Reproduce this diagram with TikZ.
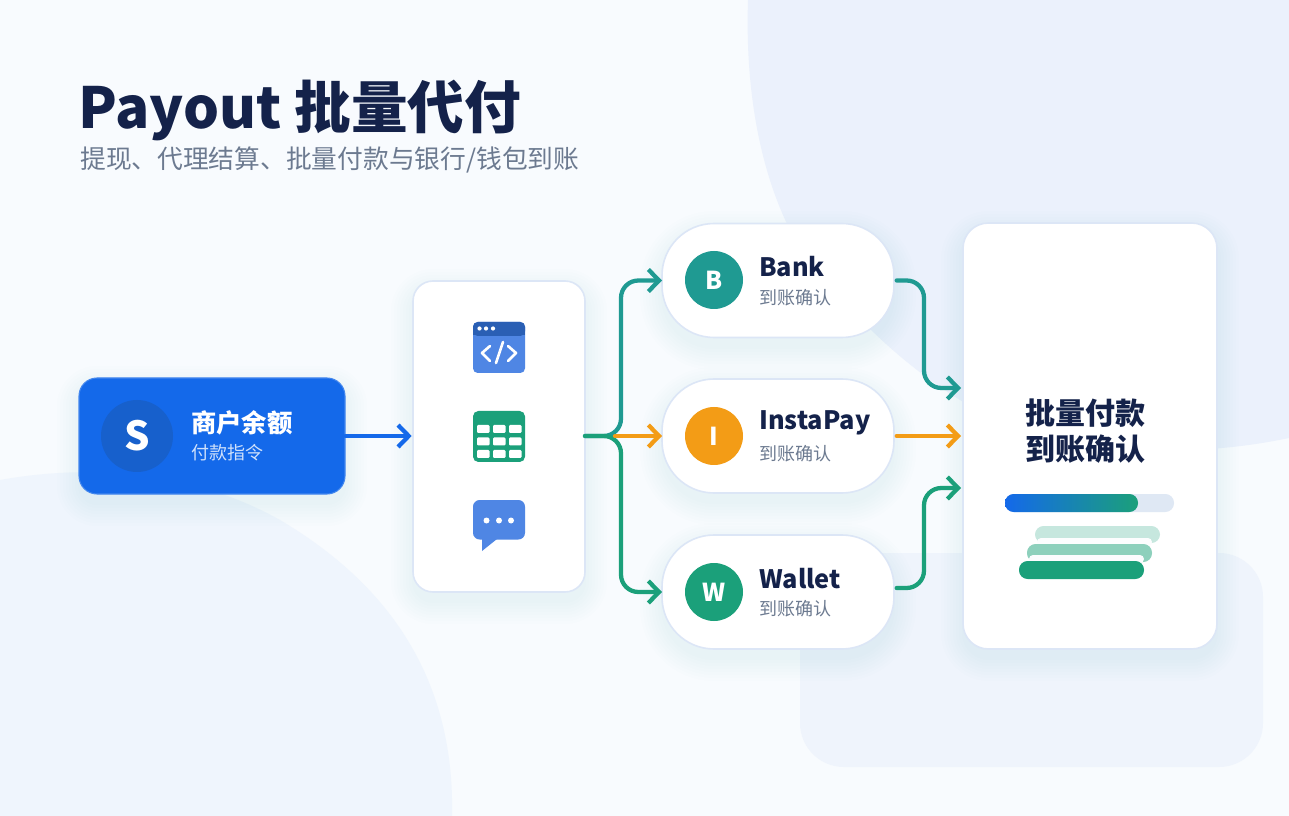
\documentclass[tikz,border=0pt]{standalone}
\usepackage{fontspec}
\setmainfont{Noto Sans CJK SC}
\usetikzlibrary{arrows.meta,calc}
\definecolor{bgbase}{HTML}{F8FBFE}
\definecolor{bgblob}{HTML}{EBF1FC}
\definecolor{bgleft}{HTML}{EFF5FD}
\definecolor{bgrect}{HTML}{EFF4FC}
\definecolor{navy}{HTML}{14224A}
\definecolor{greytext}{HTML}{6C7A90}
\definecolor{brand}{HTML}{1469EA}
\definecolor{branddark}{HTML}{1760CC}
\definecolor{teal1}{HTML}{1F9A92}
\definecolor{green1}{HTML}{1BA07A}
\definecolor{amber}{HTML}{F39C16}
\definecolor{edge}{HTML}{DCE6F6}
\definecolor{iconblue}{HTML}{4F86E4}
\definecolor{iconhead}{HTML}{2A5FB4}
\definecolor{track}{HTML}{DFE8F4}
\definecolor{shadowcol}{HTML}{5B7DB8}
\newcommand{\softshadow}[5]{%
  \foreach \g in {22,19,...,1}{%
    \fill[shadowcol,opacity=0.009,rounded corners={(#5+\g)*0.75pt}]
      ({#1-\g},{#2-\g+10}) rectangle ({#3+\g},{#4+\g+10});}}
\tikzset{
  cardbox/.style={draw=edge,line width=1.2pt,fill=white,inner sep=0pt,outer sep=0pt},
  pillbox/.style={cardbox,minimum width=174pt,minimum height=85.5pt,rounded corners=39pt},
  badge/.style={circle,inner sep=0pt,minimum size=43.5pt,text=white,font=\fontsize{18.5}{18.5}\selectfont\bfseries},
  headlabel/.style={anchor=west,inner sep=0pt,text=navy,font=\fontsize{19}{19}\selectfont\bfseries},
  sublabel/.style={anchor=west,inner sep=0pt,text=greytext,font=\fontsize{13.5}{13.5}\selectfont},
  flow/.style={line width=3.2pt,line cap=round,line join=round,-{Straight Barb[length=8pt,width=16.5pt,line width=3.2pt]}},
  bar/.style={rounded corners=6.5pt},
}
\begin{document}
\begin{tikzpicture}[x=0.75pt,y=-0.75pt]
\useasboundingbox (0,0) rectangle (1289,816);
\begin{scope}
\clip (0,0) rectangle (1289,816);
\fill[bgbase] (0,0) rectangle (1289,816);
\fill[bgblob] (748,0) .. controls (745,90) and (760,170) .. (790,230)
  .. controls (825,285) and (880,350) .. (960,400)
  .. controls (1040,445) and (1160,465) .. (1289,438) -- (1289,0) -- cycle;
\fill[bgleft] (0,480) .. controls (100,462) and (200,475) .. (280,520)
  .. controls (390,585) and (455,680) .. (452,816) -- (0,816) -- cycle;
\fill[bgrect,rounded corners=33pt] (800,553) rectangle (1263,767);
\end{scope}

% shadows
\softshadow{79}{378}{345}{494}{18}
\softshadow{413}{281}{585}{592}{20}
\softshadow{662}{223}{894}{338}{52}
\softshadow{662}{379}{894}{493}{52}
\softshadow{662}{535}{894}{649}{52}
\softshadow{963}{223}{1217}{649}{26}

% title
\node[anchor=west,inner sep=0pt,text=navy,font=\fontsize{42.5}{42.5}\selectfont\bfseries] (title) at (78,110) {Payout 批量代付};
\node[anchor=west,inner sep=0pt,text=greytext,font=\fontsize{19.3}{19.3}\selectfont] (subtitle) at (80,160) {提现、代理结算、批量付款与银行/钱包到账};

% merchant
\node[fill=brand,draw=brand!80!white,line width=0.8pt,rounded corners=13.5pt,inner sep=0pt,minimum width=199.5pt,minimum height=87pt] (merchant) at (212,436) {};
\node[circle,fill=branddark,inner sep=0pt,minimum size=54pt,text=white,font=\fontsize{30}{30}\selectfont\bfseries] (mbadge) at (137,436) {S};
\node[anchor=west,inner sep=0pt,text=white,font=\fontsize{19}{19}\selectfont\bfseries] (mhead) at (191,423) {商户余额};
\node[anchor=west,inner sep=0pt,text=white!80!brand,font=\fontsize{13.5}{13.5}\selectfont] (msub) at (191,453) {付款指令};

% middle card
\node[cardbox,rounded corners=15pt,minimum width=129pt,minimum height=233.25pt] (mid) at (499,436.5) {};

% window icon
\fill[iconblue,rounded corners=3.5pt] (473,322) rectangle (525,373);
\fill[iconhead,rounded corners=3.5pt] (473,322) rectangle (525,336);
\fill[iconhead] (473,330) rectangle (525,335);
\foreach \x in {479.5,486,493}{\fill[white] (\x,328.5) circle [radius=2.1];}
\draw[white,line width=2pt,line cap=round,line join=round] (490,346) -- (482,353) -- (490,361);
\draw[white,line width=2pt,line cap=round,line join=round] (508,346) -- (516,353) -- (508,361);
\draw[white,line width=2pt,line cap=round] (503,342) -- (496,363);

% table icon
\fill[green1,rounded corners=4pt] (473,411) rectangle (525,462);
\foreach \y in {425,437.5,450}{\foreach \x in {477,493,509}{
  \fill[white,rounded corners=0.8pt] (\x,\y) rectangle ++(12.5,8);}}

% chat icon
\fill[iconblue,rounded corners=5pt] (473,500) rectangle (525,539.5);
\fill[iconblue] (482,535) -- (482,551) -- (497,539) -- cycle;
\foreach \x in {486.5,499,511}{\fill[white] (\x,520.5) circle [radius=3];}

% pills
\node[pillbox] (bank) at (778,280.5) {};
\node[pillbox] (insta) at (778,436) {};
\node[pillbox] (wallet) at (778,592) {};
\node[badge,fill=teal1] (bbank) at (714,280) {B};
\node[badge,fill=amber] (binsta) at (714,436) {I};
\node[badge,fill=green1] (bwallet) at (714,592) {W};
\node[headlabel] (lbank) at (759,267) {Bank};
\node[sublabel] (sbank) at (759,298) {到账确认};
\node[headlabel] (linsta) at (759,423) {InstaPay};
\node[sublabel] (sinsta) at (759,454) {到账确认};
\node[headlabel] (lwallet) at (759,579) {Wallet};
\node[sublabel] (swallet) at (759,609) {到账确认};

% right card
\node[cardbox,rounded corners=19pt,minimum width=190.5pt,minimum height=319.5pt] (result) at (1090,436) {};
\node[inner sep=0pt,text=navy,font=\fontsize{22.5}{22.5}\selectfont\bfseries] (r1) at (1085.5,413) {批量付款};
\node[inner sep=0pt,text=navy,font=\fontsize{22.5}{22.5}\selectfont\bfseries] (r2) at (1085.5,449) {到账确认};

% progress
\fill[track,bar] (1005,494) rectangle (1174,512);
\shade[left color=brand,right color=green1,bar] (1005,494) rectangle (1138,512);
\fill[green1!25!white,bar] (1035,526) rectangle (1160,543);
\fill[white!92!track,rounded corners=3pt] (1037,538) rectangle (1152,546);
\fill[green1!50!white,bar] (1027,544) rectangle (1152,562);
\fill[white!88!track,rounded corners=3pt] (1029,555) rectangle (1144,563);
\fill[green1,bar] (1019,561) rectangle (1144,579);

% connectors
\coordinate (hub) at (621,436);
\coordinate (hubr) at (924,436);
\coordinate (inbank) at (961,388);
\coordinate (ininsta) at (961,436);
\coordinate (inwallet) at (961,488);
\draw[flow,brand] (merchant.east) -- ([xshift=-1pt]mid.west|-merchant.east);
\draw[flow,teal1,rounded corners=13pt] (mid.east|-hub) -- (hub) -- (hub|-bank.west) -- (bank.west);
\draw[flow,green1,rounded corners=13pt] (mid.east|-hub) -- (hub) -- (hub|-wallet.west) -- (wallet.west);
\draw[flow,amber] (615,436) -- (insta.west);
\draw[flow,amber] ([xshift=2pt]insta.east) -- (ininsta);
\draw[flow,teal1,rounded corners=13pt] ([xshift=2pt]bank.east) -- (bank.east-|hubr) -- (hubr|-inbank) -- (inbank);
\draw[flow,green1,rounded corners=13pt] ([xshift=2pt,yshift=3pt]wallet.east) -- ([yshift=3pt]wallet.east-|hubr) -- (hubr|-inwallet) -- (inwallet);
\end{tikzpicture}
\end{document}
